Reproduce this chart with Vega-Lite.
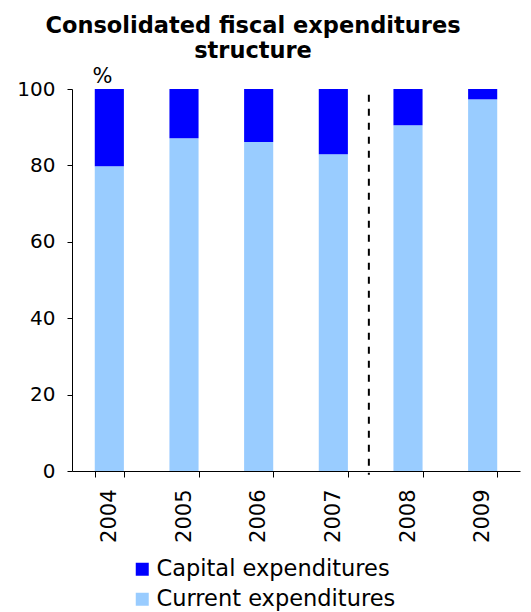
{
  "$schema": "https://vega.github.io/schema/vega-lite/v6.json",
  "width": 448,
  "height": 382,
  "autosize": {"type": "none"},
  "padding": {"left": 72, "top": 89, "right": 11, "bottom": 141},
  "background": "white",
  "config": {
    "font": "DejaVu Sans",
    "view": {"stroke": null}
  },
  "title": {
    "text": ["Consolidated fiscal expenditures", "structure"],
    "font": "DejaVu Sans",
    "fontSize": 22.5,
    "fontWeight": "bold",
    "color": "black",
    "anchor": "middle",
    "frame": "group",
    "dx": -43,
    "offset": 3,
    "lineHeight": 25
  },
  "datasets": {
    "bars": [
      {"year": "2004", "type": "Current expenditures", "value": 79.8},
      {"year": "2004", "type": "Capital expenditures", "value": 20.2},
      {"year": "2005", "type": "Current expenditures", "value": 87.1},
      {"year": "2005", "type": "Capital expenditures", "value": 12.9},
      {"year": "2006", "type": "Current expenditures", "value": 86.1},
      {"year": "2006", "type": "Capital expenditures", "value": 13.9},
      {"year": "2007", "type": "Current expenditures", "value": 82.9},
      {"year": "2007", "type": "Capital expenditures", "value": 17.1},
      {"year": "2008", "type": "Current expenditures", "value": 90.5},
      {"year": "2008", "type": "Capital expenditures", "value": 9.5},
      {"year": "2009", "type": "Current expenditures", "value": 97.3},
      {"year": "2009", "type": "Capital expenditures", "value": 2.7}
    ],
    "divider": [{"year": "2007", "top": 98.5, "bottom": -1}]
  },
  "layer": [
    {
      "data": {"name": "bars"},
      "mark": {"type": "bar"},
      "encoding": {
        "x": {
          "field": "year",
          "type": "nominal",
          "scale": {"paddingInner": 0.61, "paddingOuter": 0.305},
          "axis": {
            "title": null,
            "labelAngle": -90,
            "labelAlign": "right",
            "labelBaseline": "middle",
            "labelFontSize": 21,
            "labelColor": "black",
            "labelPadding": 12,
            "tickBand": "extent",
            "tickSize": 6,
            "tickColor": "black",
            "domainColor": "black",
            "grid": false
          }
        },
        "y": {
          "field": "value",
          "type": "quantitative",
          "stack": "zero",
          "scale": {"domain": [0, 100], "nice": false},
          "axis": {
            "values": [0, 20, 40, 60, 80, 100],
            "title": "%",
            "titleAngle": 0,
            "titleAlign": "left",
            "titleBaseline": "alphabetic",
            "titleX": 20,
            "titleY": -7,
            "titleFontSize": 21,
            "titleFontWeight": "normal",
            "titleColor": "black",
            "labelFontSize": 20,
            "labelColor": "black",
            "labelPadding": 12,
            "tickSize": 5,
            "tickColor": "black",
            "domainColor": "black",
            "grid": false
          }
        },
        "color": {
          "field": "type",
          "type": "nominal",
          "scale": {
            "domain": ["Capital expenditures", "Current expenditures"],
            "range": ["#0000FF", "#99CCFF"]
          },
          "legend": {
            "title": null,
            "orient": "none",
            "legendX": 59,
            "legendY": 469,
            "direction": "vertical",
            "symbolType": "square",
            "symbolSize": 169,
            "symbolStrokeWidth": 0,
            "labelFontSize": 22.5,
            "labelLimit": 400,
            "labelColor": "black",
            "labelOffset": 3,
            "rowPadding": 7
          }
        },
        "order": {"field": "type", "sort": "descending"}
      }
    },
    {
      "data": {"name": "divider"},
      "mark": {"type": "rule", "color": "black", "strokeWidth": 2, "strokeDash": [7, 7]},
      "encoding": {
        "x": {"field": "year", "type": "nominal", "bandPosition": 1.72},
        "y": {"field": "top", "type": "quantitative"},
        "y2": {"field": "bottom"}
      }
    }
  ]
}
